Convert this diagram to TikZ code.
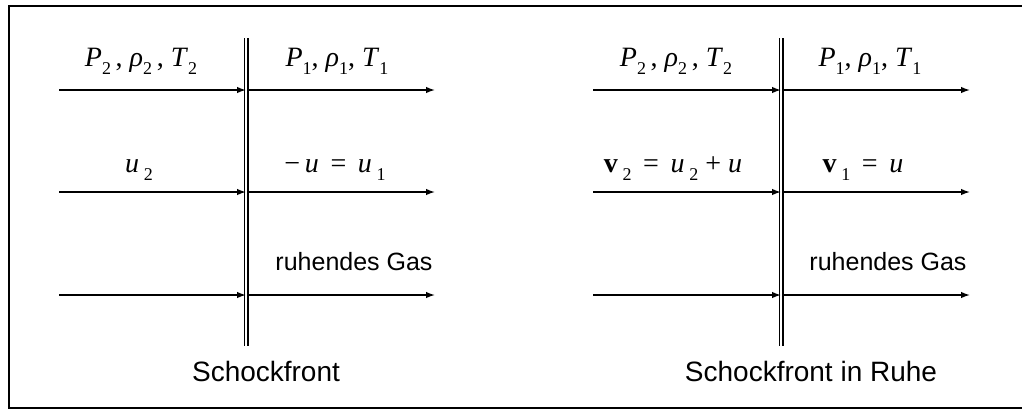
\documentclass[tikz,border=0pt]{standalone}
\usepackage{fontspec}
\setsansfont{Liberation Sans}
\newfontfamily\tms{Liberation Serif}
\usetikzlibrary{arrows.meta}
\newcommand\sbs[1]{\raisebox{-0.3em}{\upshape\fontsize{18}{21}\selectfont #1}}
\newcommand\iv[1]{\textit{#1}}
\begin{document}
\begin{tikzpicture}[x=1pt,y=-1pt,
  flow/.style={line width=1.4pt,-{Latex[length=9pt,width=6.5pt]}},
  wallline/.style={line width=1.2pt},
  frameline/.style={line width=2pt},
  mathlbl/.style={anchor=base,inner sep=0pt,font=\tms\fontsize{28}{32}\selectfont},
  txtlbl/.style={anchor=base,inner sep=0pt,font=\sffamily\fontsize{25}{30}\selectfont},
  caplbl/.style={anchor=base,inner sep=0pt,font=\sffamily\fontsize{28}{33}\selectfont}]
\useasboundingbox (0,0) rectangle (1022,410);
% frame
\coordinate (fTR) at (1030,5.5);
\coordinate (fTL) at (8.5,5.5);
\coordinate (fBL) at (8.5,407.5);
\coordinate (fBR) at (1030,407.5);
\draw[frameline] (fTR) -- (fTL) -- (fBL) -- (fBR);

% ---------- left diagram ----------
\coordinate (wLt) at (244.5,38);
\coordinate (wLb) at (244.5,346);
\coordinate (wRt) at (248,38);
\coordinate (wRb) at (248,346);
\draw[wallline] (wLt) -- (wLb);
\draw[wallline] (wRt) -- (wRb);
\foreach \yy/\nm in {90/a,192/b,295/c}{
  \coordinate (L\nm s) at (59,\yy);
  \coordinate (L\nm w) at (246,\yy);
  \coordinate (L\nm m) at (248,\yy);
  \coordinate (L\nm e) at (435,\yy);
  \draw[flow] (L\nm s) -- (L\nm w);
  \draw[flow] (L\nm m) -- (L\nm e);
}
\node[mathlbl] (lp2) at (141,66) {\iv{P}\sbs{2}\,, \iv{ρ}\sbs{2}\,, \iv{T}\sbs{2}};
\node[mathlbl] (lp1) at (337,66) {\iv{P}\sbs{1}, \iv{ρ}\sbs{1}, \iv{T}\sbs{1}};
\node[mathlbl] (lu2) at (139,172) {\iv{u}\,\sbs{2}};
\node[mathlbl] (lu1) at (335,172) {−\,\iv{u} \,=\, \iv{u}\,\sbs{1}};
\node[txtlbl] (lgas) at (354,270) {ruhendes Gas};
\node[caplbl] (lcap) at (266,381) {Schockfront};

% ---------- right diagram ----------
\coordinate (wLt2) at (779.5,38);
\coordinate (wLb2) at (779.5,346);
\coordinate (wRt2) at (783,38);
\coordinate (wRb2) at (783,346);
\draw[wallline] (wLt2) -- (wLb2);
\draw[wallline] (wRt2) -- (wRb2);
\foreach \yy/\nm in {90/a,192/b,295/c}{
  \coordinate (R\nm s) at (593,\yy);
  \coordinate (R\nm w) at (781,\yy);
  \coordinate (R\nm m) at (783,\yy);
  \coordinate (R\nm e) at (970,\yy);
  \draw[flow] (R\nm s) -- (R\nm w);
  \draw[flow] (R\nm m) -- (R\nm e);
}
\node[mathlbl] (rp2) at (676,66) {\iv{P}\sbs{2}\,, \iv{ρ}\sbs{2}\,, \iv{T}\sbs{2}};
\node[mathlbl] (rp1) at (870,66) {\iv{P}\sbs{1}, \iv{ρ}\sbs{1}, \iv{T}\sbs{1}};
\node[mathlbl] (rv2) at (673,172) {\textbf{v}\,\sbs{2} \,=\, \iv{u}\,\sbs{2} + \iv{u}};
\node[mathlbl] (rv1) at (863,172) {\textbf{v}\,\sbs{1} \,=\, \iv{u}};
\node[txtlbl] (rgas) at (888,270) {ruhendes Gas};
\node[caplbl] (rcap) at (811,381) {Schockfront in Ruhe};
\end{tikzpicture}
\end{document}
